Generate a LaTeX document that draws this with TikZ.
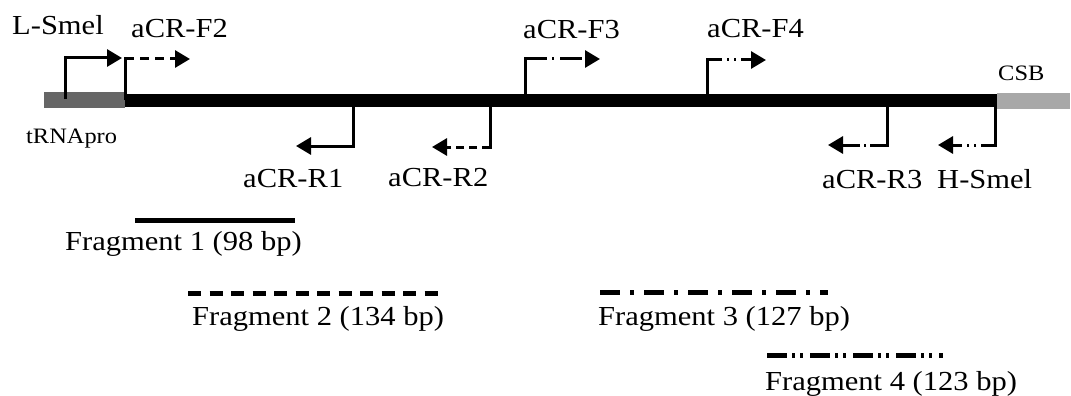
\documentclass[tikz,border=0pt]{standalone}
\usepackage{fontspec}
\setmainfont{Liberation Serif}
\usetikzlibrary{arrows.meta}
\newcommand\wtxt[1]{\scalebox{1.11}[1]{#1}}
\definecolor{trnagray}{HTML}{666666}
\definecolor{csbgray}{HTML}{A8A8A8}
\begin{document}
\begin{tikzpicture}[x=1pt,y=-1pt,
  lbl/.style={anchor=base west, inner sep=0pt, font=\fontsize{27.5}{30}\selectfont},
  slbl/.style={anchor=base west, inner sep=0pt, font=\fontsize{22}{24}\selectfont},
  primer/.style={line width=3pt},
  tipped/.style={-{Triangle[length=15pt,width=17pt]}},
  frag/.style={line width=5pt}]
\useasboundingbox (0,0) rectangle (1071,396);
% bars
\fill[trnagray] (44,92) rectangle (125,108);
\fill[black] (125,94) rectangle (997,107);
\fill[csbgray] (997,93) rectangle (1070,109);
% labels
\node[lbl] (lsmel) at (12,35) {\wtxt{L-Smel}};
\node[lbl] (lf2) at (131,38) {\wtxt{aCR-F2}};
\node[lbl] (lf3) at (523,39) {\wtxt{aCR-F3}};
\node[lbl] (lf4) at (707,38) {\wtxt{aCR-F4}};
\node[slbl] (ltrna) at (26,143) {\wtxt{tRNApro}};
\node[slbl] (lcsb) at (998,81) {\wtxt{CSB}};
\node[lbl] (lr1) at (243,187) {\wtxt{aCR-R1}};
\node[lbl] (lr2) at (388,186) {\wtxt{aCR-R2}};
\node[lbl] (lr3) at (822,188) {\wtxt{aCR-R3}};
\node[lbl] (lhsmel) at (937,188) {\wtxt{H-Smel}};
\node[lbl] (lfr1) at (65,250) {\wtxt{Fragment 1 (98 bp)}};
\node[lbl] (lfr2) at (192,325) {\wtxt{Fragment 2 (134 bp)}};
\node[lbl] (lfr3) at (598,325) {\wtxt{Fragment 3 (127 bp)}};
\node[lbl] (lfr4) at (765,390) {\wtxt{Fragment 4 (123 bp)}};
% primer coordinates
\coordinate (ls0) at (65,99);  \coordinate (ls1) at (65,58);  \coordinate (ls2) at (122,58);
\coordinate (f2a) at (125,100); \coordinate (f2b) at (125,59); \coordinate (f2c) at (190,59);
\coordinate (f3a) at (525,100); \coordinate (f3b) at (525,59); \coordinate (f3c) at (600,59);
\coordinate (f4a) at (707,100); \coordinate (f4b) at (707,60); \coordinate (f4c) at (766,60);
\coordinate (r1a) at (353,104); \coordinate (r1b) at (353,146); \coordinate (r1c) at (296,146);
\coordinate (r2a) at (490,104); \coordinate (r2b) at (490,147); \coordinate (r2c) at (432,147);
\coordinate (r3a) at (887,104); \coordinate (r3b) at (887,145); \coordinate (r3c) at (828,145);
\coordinate (hsa) at (995,104); \coordinate (hsb) at (995,145); \coordinate (hsc) at (938,145);
% primers
\draw[primer,tipped] (ls0) -- (ls1) -- (ls2);
\draw[primer] (f2a) -- (f2b) -- ++(9,0);
\draw[primer,tipped,dash pattern=on 9pt off 6pt] (f2b) -- (f2c);
\draw[primer] (f3a) -- (f3b) -- ++(22,0);
\draw[primer,tipped,dash pattern=on 22pt off 5pt on 2pt off 6pt] (f3b) -- (f3c);
\draw[primer] (f4a) -- (f4b) -- ++(15,0);
\draw[primer,tipped,dash pattern=on 15pt off 5pt on 2pt off 5pt on 2pt off 5pt] (f4b) -- (f4c);
\draw[primer,tipped] (r1a) -- (r1b) -- (r1c);
\draw[primer] (r2a) -- (r2b) -- ++(-8,0);
\draw[primer,tipped,dash pattern=on 8pt off 5pt] (r2b) -- (r2c);
\draw[primer] (r3a) -- (r3b) -- ++(-17,0);
\draw[primer,tipped,dash pattern=on 17pt off 4pt on 2pt off 4pt] (r3b) -- (r3c);
\draw[primer] (hsa) -- (hsb) -- ++(-14,0);
\draw[primer,tipped,dash pattern=on 14pt off 5pt on 2pt off 5pt on 2pt off 5pt] (hsb) -- (hsc);
% fragments
\coordinate (fr1a) at (135,220); \coordinate (fr1b) at (295,220);
\coordinate (fr2a) at (188,293); \coordinate (fr2b) at (438,293);
\coordinate (fr3a) at (600,292); \coordinate (fr3b) at (828,292);
\coordinate (fr4a) at (767,355); \coordinate (fr4b) at (943,355);
\draw[frag] (fr1a) -- (fr1b);
\draw[frag,dash pattern=on 13pt off 8.5pt] (fr2a) -- (fr2b);
\draw[frag,dash pattern=on 20pt off 10pt on 4pt off 10pt] (fr3a) -- (fr3b);
\draw[frag,dash pattern=on 20pt off 5pt on 3pt off 5pt on 3pt off 7pt] (fr4a) -- (fr4b);
\end{tikzpicture}
\end{document}
